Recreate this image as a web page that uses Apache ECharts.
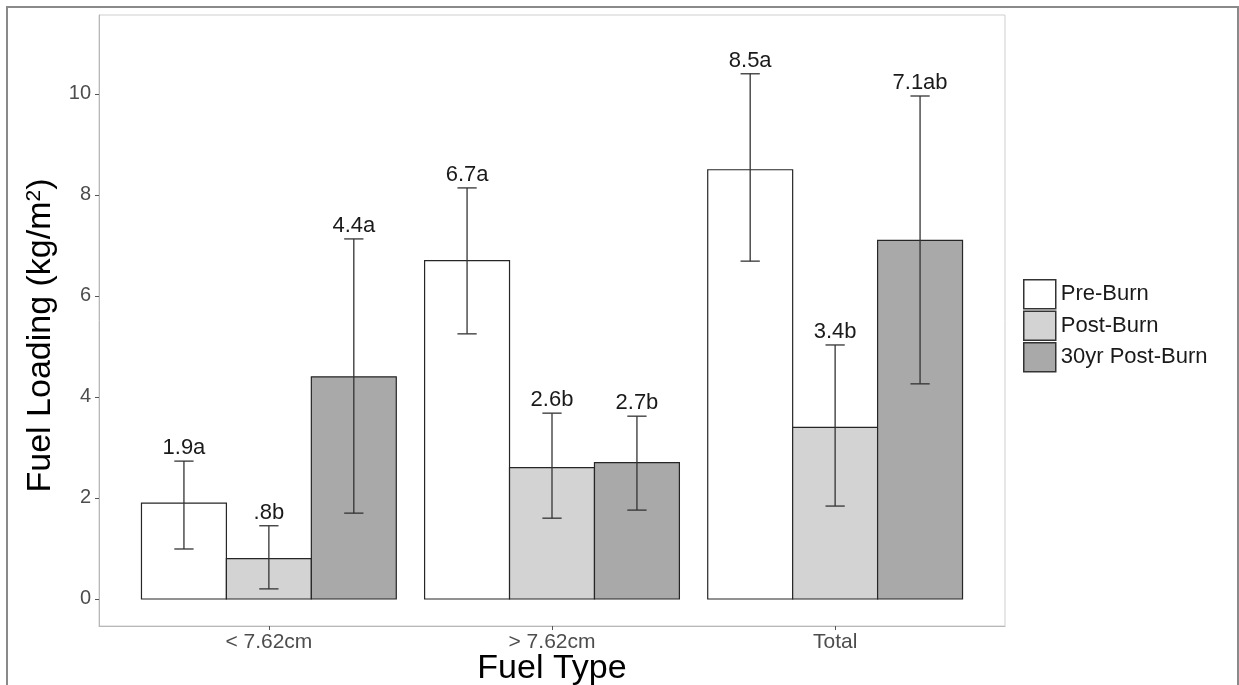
<!DOCTYPE html>
<html>
<head>
<meta charset="utf-8">
<title>Fuel Loading by Fuel Type</title>
<script src="https://cdn.jsdelivr.net/npm/echarts@6/dist/echarts.min.js"></script>
<style>
  html, body { margin: 0; padding: 0; background: #ffffff; }
  #chart { width: 1239px; height: 685px; }
</style>
</head>
<body>
<div id="chart"></div>
<script>
// Fuel categories along the x axis
const categories = ['< 7.62cm', '> 7.62cm', 'Total'];

// Treatment groups (legend order)
const groups = ['Pre-Burn', 'Post-Burn', '30yr Post-Burn'];

// Mean fuel loading (kg/m^2) per category, one array per group
const preBurn = [1.9, 6.7, 8.5];
const postBurn = [0.8, 2.6, 3.4];
const thirtyYrPostBurn = [4.4, 2.7, 7.1];

// Error bar limits per category
const preBurnLower = [0.99, 5.25, 6.69];
const preBurnUpper = [2.73, 8.14, 10.40];
const postBurnLower = [0.20, 1.60, 1.84];
const postBurnUpper = [1.45, 3.68, 5.03];
const thirtyYrLower = [1.70, 1.76, 4.26];
const thirtyYrUpper = [7.13, 3.62, 9.96];

// Significance letters per category
const preBurnLetters = ['a', 'a', 'a'];
const postBurnLetters = ['b', 'b', 'b'];
const thirtyYrLetters = ['a', 'b', 'ab'];

// Y axis tick values
const yTicks = [0, 2, 4, 6, 8, 10];

const groupMeans = [preBurn, postBurn, thirtyYrPostBurn];
const groupLower = [preBurnLower, postBurnLower, thirtyYrLower];
const groupUpper = [preBurnUpper, postBurnUpper, thirtyYrUpper];
const groupLetters = [preBurnLetters, postBurnLetters, thirtyYrLetters];
const fills = ['#ffffff', '#d3d3d3', '#a9a9a9'];

const FONT = '"Liberation Sans", Arial, sans-serif';
const BAR_W = 0.3;      // width of one bar in category units
const CAP_HALF = 0.034; // half width of error bar caps

function fmtValue(v) {
  return v.toFixed(1).replace(/^0\./, '.');
}

function makeSeries(k) {
  const labels = groupMeans[k].map((v, i) => fmtValue(v) + groupLetters[k][i]);
  const data = categories.map((c, i) => [i + 1, groupMeans[k][i], groupLower[k][i], groupUpper[k][i]]);
  const offset = (k - 1) * BAR_W;
  return {
    type: 'custom',
    name: groups[k],
    itemStyle: { color: fills[k], borderColor: '#333333', borderWidth: 1.2 },
    encode: { x: 0, y: 1 },
    data: data,
    z: 2,
    renderItem: function (params, api) {
      const x = api.value(0) + offset;
      const v = api.value(1);
      const lo = api.value(2);
      const hi = api.value(3);
      const tl = api.coord([x - BAR_W / 2, v]);
      const br = api.coord([x + BAR_W / 2, 0]);
      const top = api.coord([x, hi]);
      const bot = api.coord([x, lo]);
      const capL = api.coord([x - CAP_HALF, hi])[0];
      const capR = api.coord([x + CAP_HALF, hi])[0];
      const lineStyle = { stroke: '#333333', lineWidth: 1.3 };
      return {
        type: 'group',
        children: [
          {
            type: 'rect',
            shape: { x: tl[0], y: tl[1], width: br[0] - tl[0], height: br[1] - tl[1] },
            style: { fill: fills[k], stroke: '#262626', lineWidth: 1.2 }
          },
          { type: 'line', shape: { x1: top[0], y1: top[1], x2: bot[0], y2: bot[1] }, style: lineStyle },
          { type: 'line', shape: { x1: capL, y1: top[1], x2: capR, y2: top[1] }, style: lineStyle },
          { type: 'line', shape: { x1: capL, y1: bot[1], x2: capR, y2: bot[1] }, style: lineStyle },
          {
            type: 'text',
            style: {
              text: labels[params.dataIndex],
              x: top[0],
              y: top[1] - 13,
              align: 'center',
              verticalAlign: 'middle',
              fill: '#1a1a1a',
              font: '22px ' + FONT
            }
          }
        ]
      };
    }
  };
}

const chart = echarts.init(document.getElementById('chart'));

chart.setOption({
  backgroundColor: '#ffffff',
  animation: false,
  textStyle: { fontFamily: FONT },
  grid: {
    left: 99,
    right: 234,
    top: 15,
    bottom: 59,
    outerBoundsMode: 'none',
    containLabel: false,
    show: true,
    borderColor: '#cfcfcf',
    borderWidth: 1,
    backgroundColor: '#ffffff'
  },
  legend: {
    orient: 'vertical',
    left: 1023,
    top: 279,
    padding: 0,
    icon: 'rect',
    itemWidth: 32,
    itemHeight: 29,
    itemGap: 1,
    textStyle: { fontSize: 22, color: '#1a1a1a', fontFamily: FONT },
    data: groups.map((g, k) => ({
      name: g,
      itemStyle: { color: fills[k], borderColor: '#333333', borderWidth: 1.5 }
    }))
  },
  xAxis: {
    type: 'value',
    min: 0.4,
    max: 3.6,
    name: 'Fuel Type',
    nameLocation: 'middle',
    nameMoveOverlap: false,
    nameGap: 26,
    nameTextStyle: { fontSize: 34, color: '#000000', fontFamily: FONT },
    splitLine: { show: false },
    axisLine: { show: true, onZero: false, lineStyle: { color: '#b8b8b8', width: 1 } },
    axisTick: { show: true, length: 4, customValues: [1, 2, 3], lineStyle: { color: '#555555' } },
    axisLabel: {
      customValues: [1, 2, 3],
      formatter: v => categories[Math.round(v) - 1],
      fontSize: 21,
      color: '#4d4d4d',
      margin: 6,
      fontFamily: FONT
    }
  },
  yAxis: {
    type: 'value',
    min: -0.535,
    max: 11.564,
    name: 'Fuel Loading (kg/m{sup|2})',
    nameLocation: 'middle',
    nameRotate: 90,
    nameGap: 40,
    nameTextStyle: {
      fontSize: 34,
      color: '#000000',
      fontFamily: FONT,
      padding: [0, 30, 0, 0],
      rich: {
        sup: { fontSize: 21, verticalAlign: 'top', fontFamily: FONT, color: '#000000' }
      }
    },
    splitLine: { show: false },
    axisLine: { show: true, onZero: false, lineStyle: { color: '#b8b8b8', width: 1 } },
    axisTick: { show: true, length: 4, customValues: yTicks, lineStyle: { color: '#555555' } },
    axisLabel: {
      customValues: yTicks,
      fontSize: 20,
      color: '#4d4d4d',
      margin: 8,
      fontFamily: FONT
    }
  },
  graphic: [
    {
      type: 'rect',
      silent: true,
      z: 100,
      shape: { x: 7, y: 7, width: 1231, height: 700 },
      style: { fill: 'none', stroke: '#8a8a8a', lineWidth: 2 }
    }
  ],
  series: [makeSeries(0), makeSeries(1), makeSeries(2)]
});
</script>
</body>
</html>
